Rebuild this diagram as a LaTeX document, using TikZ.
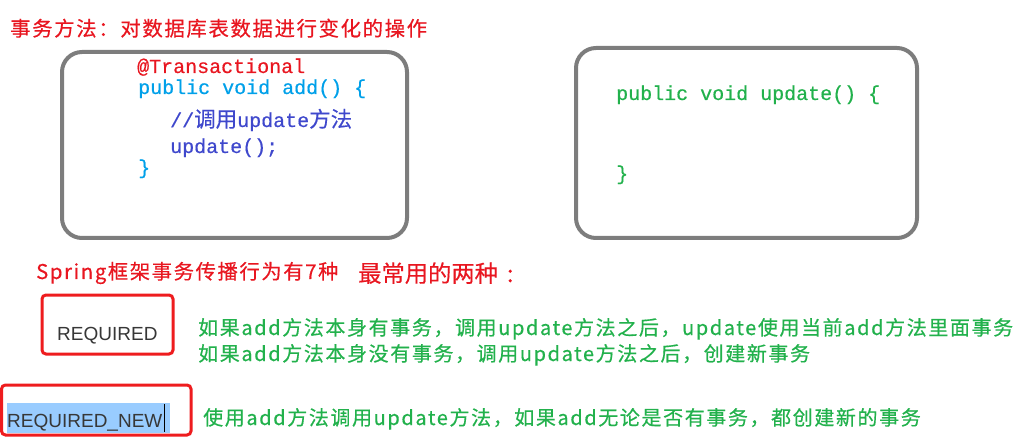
\documentclass[tikz,border=0pt]{standalone}
\usepackage{fontspec}
\setmonofont[FakeBold=0.5]{Liberation Mono}
\setsansfont{Liberation Sans}
\newfontfamily\zhfont[LetterSpace=8,FakeBold=0.5]{Noto Sans CJK SC}
\newfontfamily\cjk[FakeBold=0.3]{Noto Sans CJK SC}
\definecolor{titlered}{RGB}{232,22,32}
\definecolor{boxred}{RGB}{238,28,30}
\definecolor{boxgray}{RGB}{125,125,125}
\definecolor{codecyan}{RGB}{0,160,233}
\definecolor{codeblue}{RGB}{63,72,204}
\definecolor{codegreen}{RGB}{34,177,76}
\definecolor{selblue}{RGB}{153,204,255}
\definecolor{modegray}{RGB}{55,55,55}
\begin{document}
\begin{tikzpicture}[x=1pt,y=-1pt,
	every node/.style={inner sep=0pt,anchor=base west},
	codebox/.style={draw=boxgray,line width=4pt,rounded corners=20pt},
	redbox/.style={draw=boxred,line width=3pt,rounded corners=4pt},
	code/.style={font=\fontsize{20}{24}\selectfont\ttfamily},
	note/.style={font=\fontsize{20}{24}\selectfont\zhfont},
	mode/.style={font=\fontsize{19}{22}\selectfont\sffamily,text=modegray}]
	\useasboundingbox (0,0) rectangle (1024,443);
	\node[note,font=\fontsize{20.4}{24}\selectfont\zhfont,text=titlered] (title) at (10,36) {事务方法：对数据库表数据进行变化的操作};
	% the two methods
	\draw[codebox] (62,52) rectangle (407,238);
	\draw[codebox] (576,48) rectangle (917,238);
	\node[code,text=titlered] (anno) at (137,73) {@Transactional};
	\node[code,text=codecyan] (addhead) at (138,94) {public void add() \{};
	\node[code,text=codeblue] (comment) at (170,127) {//{\cjk\fontsize{21.5}{24}\selectfont 调用}update{\cjk\fontsize{21.5}{24}\selectfont 方法}};
	\node[code,text=codeblue] (call) at (170,153) {update();};
	\node[code,text=codecyan] (addend) at (138,174) {\}};
	\node[code,text=codegreen] (updhead) at (616,100) {public void update() \{};
	\node[code,text=codegreen] (updend) at (616,180) {\}};
	% propagation
	\node[note,font=\fontsize{20.3}{24}\selectfont\zhfont,text=titlered] (spring) at (36,279) {Spring框架事务传播行为有7种};
	\node[font=\fontsize{23.3}{26}\selectfont\cjk,text=titlered] (most) at (358,282) {最常用的两种\hspace{9pt}:};
	\draw[redbox] (42,295) rectangle (173,354);
	\node[mode] (req) at (57,340) {REQUIRED};
	\node[note,text=codegreen] (req1) at (198,335) {如果add方法本身有事务，调用update方法之后，update使用当前add方法里面事务};
	\node[note,text=codegreen] (req2) at (198,361) {如果add方法本身没有事务，调用update方法之后，创建新事务};
	\fill[selblue] (7,403) rectangle (170,433);
	\draw[redbox] (1.5,385) rectangle (191,435);
	\node[mode] (reqnew) at (7,427) {REQUIRED\_NEW};
	\draw[line width=1.2pt] ([xshift=2pt]reqnew.east |- 0,404) -- ([xshift=2pt]reqnew.east |- 0,432);
	\node[note,text=codegreen] (new1) at (203,425) {使用add方法调用update方法，如果add无论是否有事务，都创建新的事务};
\end{tikzpicture}
\end{document}
